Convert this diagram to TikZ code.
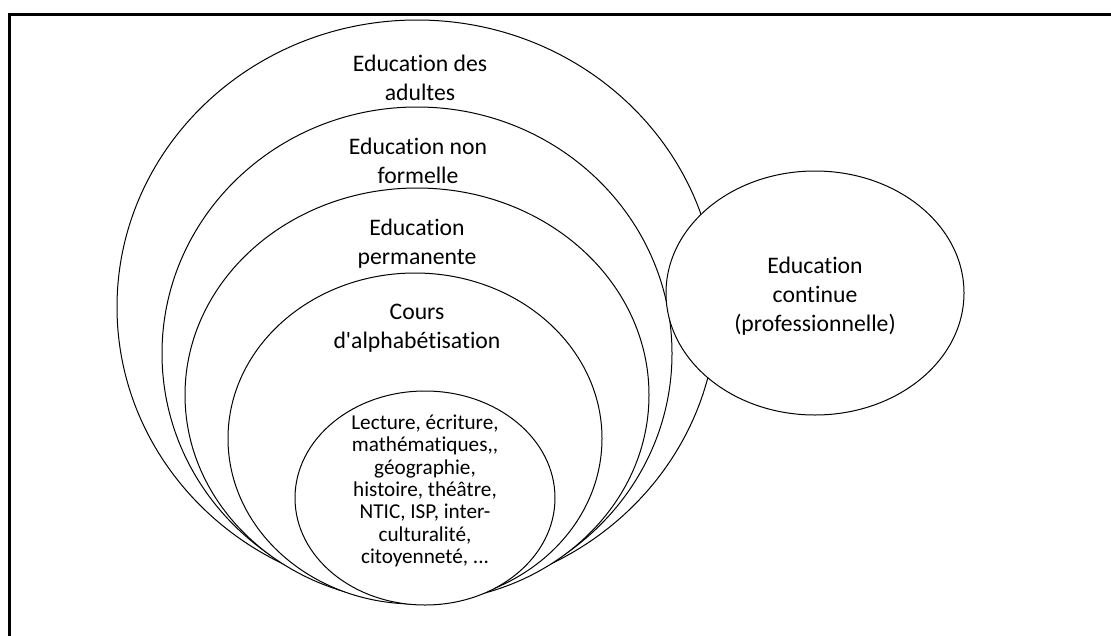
\documentclass[tikz,border=0pt]{standalone}
\usepackage{fontspec}
\setmainfont{Carlito}[Ligatures={NoCommon}]
\usetikzlibrary{shapes.geometric}
\begin{document}
\begin{tikzpicture}[x=1pt,y=-1pt,
  ell/.style={ellipse, draw=black, fill=white, line width=1pt, inner sep=0pt},
  lab/.style={align=center, font=\fontsize{23.7}{29}\selectfont},
  smalllab/.style={align=center, font=\fontsize{21.2}{22.3}\selectfont}]
\useasboundingbox (0,0) rectangle (1111,635);
\clip (0,0) rectangle (1111,635);
\draw[line width=3pt] (9,14) rectangle (1130,660);
\node[ell, minimum width=600pt, minimum height=574pt] (e1) at (417,307) {};
\node[ell, minimum width=510pt, minimum height=493pt] (e2) at (417,353.5) {};
\node[ell, minimum width=464pt, minimum height=414pt] (e3) at (417,395) {};
\node[ell, minimum width=374pt, minimum height=331pt] (e4) at (415,438.5) {};
\node[ell, minimum width=260pt, minimum height=214pt] (e5) at (425,498) {};
\node[ell, minimum width=298pt, minimum height=244pt] (e6) at (815,293) {};
\node[lab] (t1) at (420,78) {Education des\\adultes};
\node[lab] (t2) at (418,161) {Education non\\formelle};
\node[lab] (t3) at (417,243.5) {Education\\permanente};
\node[lab] (t4) at (417,328) {Cours\\d\textquotesingle alphabétisation};
\node[smalllab] (t5) at (425,491) {Lecture, écriture,\\mathématiques,{},\\géographie,\\histoire, théâtre,\\NTIC, ISP, inter-\\culturalité,\\citoyenneté, .{}.{}.};
\node[lab] (t6) at (815,296) {Education\\continue\\(professionnelle)};
\end{tikzpicture}
\end{document}
